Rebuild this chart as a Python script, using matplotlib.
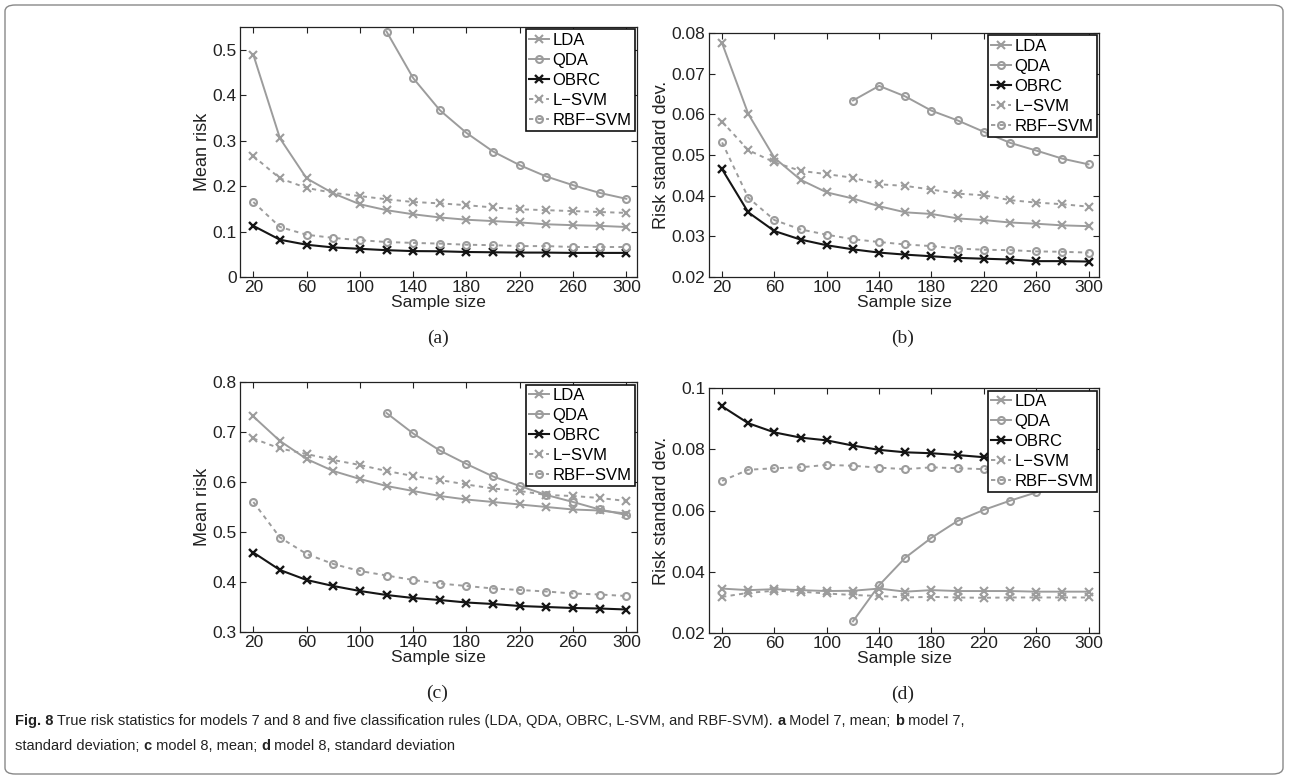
import matplotlib
matplotlib.use('Agg')
import matplotlib.pyplot as plt
from matplotlib.patches import FancyBboxPatch

# ── Data ──────────────────────────────────────────────────────
SAMPLE = [20, 40, 60, 80, 100, 120, 140, 160, 180, 200, 220, 240, 260, 280, 300]
QDA_X  = [120, 140, 160, 180, 200, 220, 240, 260, 280, 300]

# model 7, mean risk
a_lda  = [0.489, 0.305, 0.217, 0.184, 0.160, 0.147, 0.138, 0.131, 0.126, 0.123, 0.120, 0.116, 0.114, 0.1125, 0.110]
a_qda  = [0.540, 0.4375, 0.367, 0.317, 0.276, 0.246, 0.221, 0.202, 0.185, 0.172]
a_obrc = [0.1125, 0.082, 0.071, 0.065, 0.062, 0.059, 0.057, 0.0566, 0.055, 0.0544, 0.0537, 0.0537, 0.053, 0.053, 0.053]
a_lsvm = [0.266, 0.217, 0.196, 0.185, 0.178, 0.171, 0.165, 0.162, 0.158, 0.153, 0.149, 0.147, 0.145, 0.143, 0.141]
a_rbf  = [0.165, 0.110, 0.093, 0.086, 0.081, 0.077, 0.075, 0.0735, 0.071, 0.070, 0.068, 0.068, 0.066, 0.066, 0.066]

# model 7, standard deviation
b_lda  = [0.0775, 0.0601, 0.0493, 0.0439, 0.0408, 0.0393, 0.0374, 0.0359, 0.0355, 0.0344, 0.0340, 0.0334, 0.0331, 0.0327, 0.0325]
b_qda  = [0.0634, 0.0670, 0.0644, 0.0609, 0.0585, 0.0557, 0.0530, 0.0511, 0.0491, 0.0477]
b_obrc = [0.0465, 0.0359, 0.0313, 0.0292, 0.0278, 0.0268, 0.0260, 0.0255, 0.0251, 0.0247, 0.0245, 0.0243, 0.0239, 0.0239, 0.0238]
b_lsvm = [0.0582, 0.0512, 0.0482, 0.0461, 0.0453, 0.0444, 0.0428, 0.0424, 0.0415, 0.0405, 0.0401, 0.0389, 0.0383, 0.0379, 0.0373]
b_rbf  = [0.0531, 0.0395, 0.0340, 0.0317, 0.0304, 0.0293, 0.0286, 0.0280, 0.0276, 0.0270, 0.0267, 0.0266, 0.0263, 0.0262, 0.0260]

# model 8, mean risk
c_lda  = [0.731, 0.682, 0.646, 0.622, 0.606, 0.592, 0.582, 0.572, 0.565, 0.560, 0.555, 0.550, 0.545, 0.543, 0.537]
c_qda  = [0.738, 0.697, 0.663, 0.636, 0.611, 0.592, 0.574, 0.560, 0.545, 0.534]
c_obrc = [0.459, 0.424, 0.404, 0.392, 0.382, 0.374, 0.368, 0.364, 0.359, 0.356, 0.352, 0.350, 0.348, 0.347, 0.345]
c_lsvm = [0.687, 0.667, 0.656, 0.644, 0.634, 0.622, 0.612, 0.604, 0.595, 0.587, 0.582, 0.574, 0.572, 0.568, 0.562]
c_rbf  = [0.560, 0.489, 0.456, 0.436, 0.422, 0.413, 0.404, 0.397, 0.392, 0.387, 0.384, 0.381, 0.377, 0.375, 0.372]

# model 8, standard deviation
d_lda  = [0.0345, 0.0340, 0.0343, 0.0340, 0.0337, 0.0338, 0.0345, 0.0335, 0.0340, 0.0337, 0.0337, 0.0337, 0.0335, 0.0335, 0.0335]
d_qda  = [0.0238, 0.0356, 0.0446, 0.0511, 0.0566, 0.0602, 0.0632, 0.0659, 0.0676, 0.0690]
d_obrc = [0.0940, 0.0885, 0.0855, 0.0838, 0.0829, 0.0812, 0.0798, 0.0790, 0.0787, 0.0781, 0.0774, 0.0770, 0.0765, 0.0760, 0.0755]
d_lsvm = [0.0318, 0.0331, 0.0338, 0.0335, 0.0329, 0.0324, 0.0321, 0.0316, 0.0318, 0.0316, 0.0315, 0.0316, 0.0316, 0.0316, 0.0316]
d_rbf  = [0.0697, 0.0733, 0.0738, 0.0741, 0.0749, 0.0746, 0.0740, 0.0735, 0.0741, 0.0738, 0.0735, 0.0735, 0.0735, 0.0730, 0.0730]

PANELS = [
    ('(a)', 'Mean risk',          (0.0, 0.55),  [0, 0.1, 0.2, 0.3, 0.4, 0.5],
     a_lda, a_qda, a_obrc, a_lsvm, a_rbf),
    ('(b)', 'Risk standard dev.', (0.02, 0.08), [0.02, 0.03, 0.04, 0.05, 0.06, 0.07, 0.08],
     b_lda, b_qda, b_obrc, b_lsvm, b_rbf),
    ('(c)', 'Mean risk',          (0.3, 0.8),   [0.3, 0.4, 0.5, 0.6, 0.7, 0.8],
     c_lda, c_qda, c_obrc, c_lsvm, c_rbf),
    ('(d)', 'Risk standard dev.', (0.02, 0.1),  [0.02, 0.04, 0.06, 0.08, 0.1],
     d_lda, d_qda, d_obrc, d_lsvm, d_rbf),
]
YTICKLABELS = [
    ['0', '0.1', '0.2', '0.3', '0.4', '0.5'],
    ['0.02', '0.03', '0.04', '0.05', '0.06', '0.07', '0.08'],
    ['0.3', '0.4', '0.5', '0.6', '0.7', '0.8'],
    ['0.02', '0.04', '0.06', '0.08', '0.1'],
]
XTICKS = [20, 60, 100, 140, 180, 220, 260, 300]

GRAY = '#9c9c9c'
INK = '#222222'
FONT = ['Liberation Sans', 'DejaVu Sans']

# ── Layout in pixels (left, right, top, bottom) ───────────────
W, H = 1289, 779
BOXES = [(240, 637, 27, 277), (709, 1099, 33, 277),
         (240, 637, 382, 632), (709, 1099, 388, 633)]


def px(l, r, t, b):
    return [l / W, 1 - b / H, (r - l) / W, (b - t) / H]


fig = plt.figure(figsize=(W / 100, H / 100), dpi=100)

for i, (tag, ylab, ylim, yticks, lda, qda, obrc, lsvm, rbf) in enumerate(PANELS):
    l, r, t, b = BOXES[i]
    ax = fig.add_axes(px(l, r, t, b))

    dash = (0, (2.2, 2.2))
    ax.plot(SAMPLE, lda, color=GRAY, ls='-', lw=1.4, marker='x', ms=6, mew=1.5, label='LDA')
    ax.plot(QDA_X, qda, color=GRAY, ls='-', lw=1.4, marker='o', ms=5, mew=1.5, mfc='none', label='QDA')
    ax.plot(SAMPLE, obrc, color='#151515', ls='-', lw=1.5, marker='x', ms=6, mew=1.7, label='OBRC')
    ax.plot(SAMPLE, lsvm, color=GRAY, ls=dash, lw=1.4, marker='x', ms=6, mew=1.5, label='L\u2212SVM')
    ax.plot(SAMPLE, rbf, color=GRAY, ls=dash, lw=1.4, marker='o', ms=5, mew=1.5, mfc='none', label='RBF\u2212SVM')

    ax.set_xlim(10, 308)
    ax.set_ylim(*ylim)
    ax.set_xticks(XTICKS)
    ax.set_xticklabels([str(v) for v in XTICKS], family=FONT, fontsize=12.5)
    ax.set_yticks(yticks)
    ax.set_yticklabels(YTICKLABELS[i], family=FONT, fontsize=12.5)
    ax.tick_params(direction='in', top=True, right=True, length=4, width=0.8, pad=2.5, colors=INK)
    for sp in ax.spines.values():
        sp.set_linewidth(0.9)
        sp.set_color(INK)
    ax.set_xlabel('Sample size', family=FONT, fontsize=12.5, labelpad=0, color=INK)
    ax.set_ylabel(ylab, family=FONT, fontsize=13, labelpad=1, color=INK)

    leg = ax.legend(loc='upper right', prop={'family': FONT, 'size': 12}, frameon=True, fancybox=False,
                    borderaxespad=0.15, handlelength=1.2, handletextpad=0.2, borderpad=0.2,
                    labelspacing=0.3, framealpha=1)
    leg.get_frame().set_edgecolor('#111111')
    leg.get_frame().set_linewidth(1.2)

    fig.text(((l + r) / 2 - 1) / W, 1 - (b + 61) / H, tag, family=['Liberation Serif', 'DejaVu Serif'],
             fontsize=14, ha='center', va='center', color=INK)

# ── Caption ───────────────────────────────────────────────────
CAP_FONT = ['Liberation Sans', 'DejaVu Sans']
line1 = [('Fig. 8', 'bold'),
         (' True risk statistics for models 7 and 8 and five classification rules (LDA, QDA, OBRC, L-SVM, and RBF-SVM). ', 'normal'),
         ('a', 'bold'), (' Model 7, mean; ', 'normal'), ('b', 'bold'), (' model 7,', 'normal')]
line2 = [('standard deviation; ', 'normal'), ('c', 'bold'), (' model 8, mean; ', 'normal'),
         ('d', 'bold'), (' model 8, standard deviation', 'normal')]

renderer = fig.canvas.get_renderer()
for runs, ypix in [(line1, 721), (line2, 746)]:
    x = 15
    for txt, wt in runs:
        tobj = fig.text(x / W, 1 - ypix / H, txt, family=CAP_FONT, fontsize=10.5, fontweight=wt,
                        ha='left', va='center', color=INK)
        x += tobj.get_window_extent(renderer=renderer).width

# ── Rounded frame round the whole figure ──────────────────────
frame = FancyBboxPatch((5 / W, 5 / H), 1278 / W, 769 / H, boxstyle='round,pad=0,rounding_size=0.008',
                       transform=fig.transFigure, fill=False, edgecolor='#888888', linewidth=1.0)
fig.patches.append(frame)

fig.savefig('out.png', dpi=100)
